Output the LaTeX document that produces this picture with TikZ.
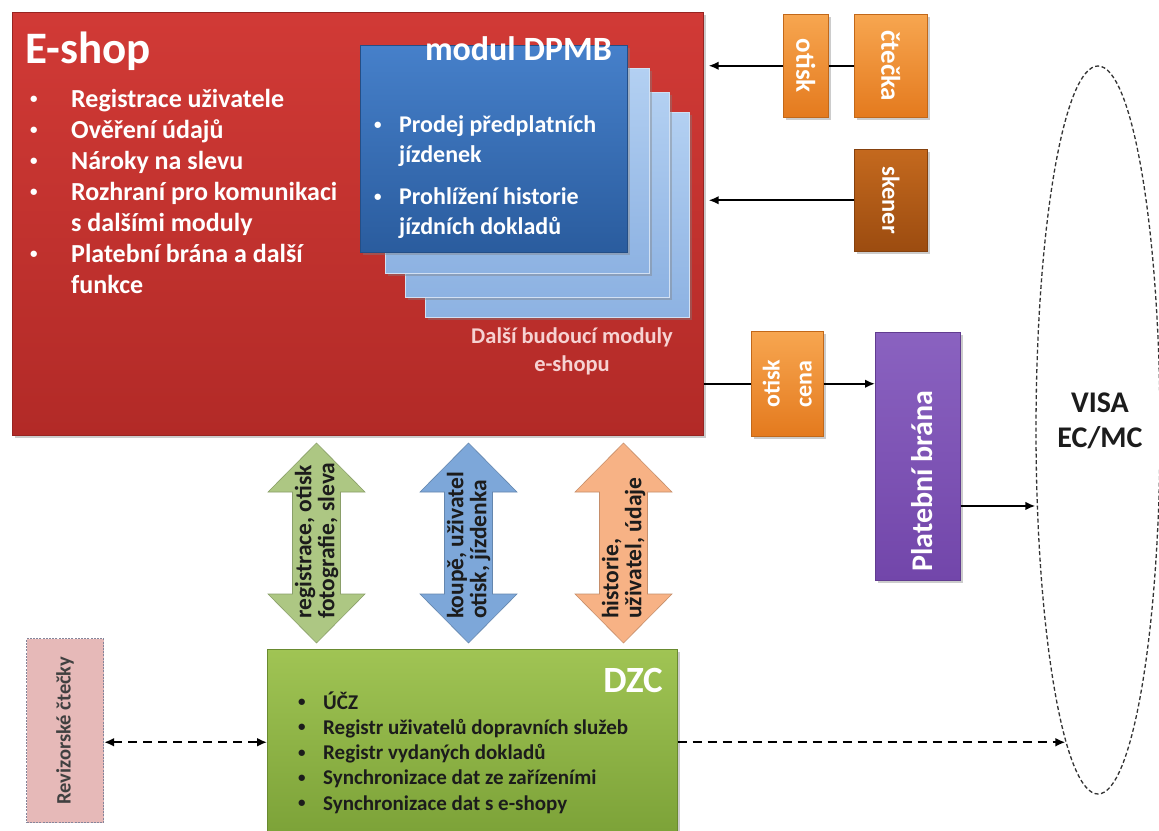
\documentclass[tikz,border=0pt]{standalone}
\usepackage{fontspec}
\setmainfont{Carlito}
\usetikzlibrary{shadows,shapes.geometric,arrows.meta,calc}
\definecolor{redT}{HTML}{D13A36}
\definecolor{redB}{HTML}{B22A27}
\definecolor{bluT}{HTML}{4680CA}
\definecolor{bluB}{HTML}{2A5C9E}
\definecolor{lbT}{HTML}{B3D0F2}
\definecolor{lbB}{HTML}{8DB2E2}
\definecolor{orT}{HTML}{F7A650}
\definecolor{orB}{HTML}{E47A1E}
\definecolor{skT}{HTML}{C4691E}
\definecolor{skB}{HTML}{9C4C10}
\definecolor{puT}{HTML}{8A62C0}
\definecolor{puB}{HTML}{7246AA}
\definecolor{grT}{HTML}{A0C454}
\definecolor{grB}{HTML}{7CA238}
\definecolor{agreen}{HTML}{ADC783}
\definecolor{ablue}{HTML}{7DA7D9}
\definecolor{aorange}{HTML}{F7B285}
\definecolor{revfill}{HTML}{E6B9B8}
\definecolor{revline}{HTML}{85859A}
\definecolor{pinktext}{HTML}{F6D2D2}
\definecolor{darktext}{HTML}{1C1C1C}
\newcommand{\smbul}{\raisebox{0.12em}{\fontsize{15}{15}\selectfont\textbullet}}
\tikzset{
  box/.style={rectangle, inner sep=0pt, anchor=north west},
  shad/.style={drop shadow={shadow xshift=2.5pt, shadow yshift=-2.5pt, opacity=0.4}},
  eshopbox/.style={box, shad, top color=redT, bottom color=redB, draw=redB!85!black, line width=0.6pt},
  modfront/.style={box, shad, top color=bluT, bottom color=bluB, draw=bluB!85!black, line width=0.6pt},
  modback/.style={box, shad, top color=lbT, bottom color=lbB, draw=white!60!lbB, line width=1pt},
  orbox/.style={box, shad, top color=orT, bottom color=orB, draw=orB!85!black, line width=0.5pt},
  skbox/.style={box, shad, top color=skT, bottom color=skB, draw=skB!85!black, line width=0.5pt},
  pubox/.style={box, shad, top color=puT, bottom color=puB, draw=puB!85!black, line width=0.5pt},
  dzcbox/.style={box, shad, top color=grT, bottom color=grB, draw=grB!85!black, line width=0.5pt},
  revbox/.style={box, fill=revfill, draw=revline, dash pattern=on 2pt off 1.2pt, line width=1.2pt},
  wtext/.style={text=white, inner sep=0pt},
  btext/.style={text=darktext, inner sep=0pt},
  arr/.style={draw=black, line width=1.8pt, -{Latex[length=10pt,width=8.5pt]}},
  plain/.style={draw=black, line width=1.8pt},
  darr/.style={draw=black, line width=2pt, dash pattern=on 9pt off 6pt, {Latex[length=10pt,width=9pt]}-{Latex[length=10pt,width=9pt]}},
  dsarr/.style={draw=black, line width=2pt, dash pattern=on 9pt off 6pt, -{Latex[length=10pt,width=9pt]}},
}
\newcommand{\dblarr}[3]{%
  \fill[#2, draw=#2!80!black, line width=0.6pt]
    (#1,443) -- ++(48.5,49) -- ++(-24.5,0) -- ++(0,102) -- ++(24.5,0)
    -- (#1,643) -- ++(-48.5,-49) -- ++(24.5,0) -- ++(0,-102) -- ++(-24.5,0) -- cycle;
}
\begin{document}
\begin{tikzpicture}[x=1pt,y=-1pt]
\useasboundingbox (0,0) rectangle (1159,830);
\fill[white] (0,0) rectangle (1159,830);

% E-shop
\node[eshopbox, minimum width=691pt, minimum height=423pt] (eshop) at (12,12) {};
\node[wtext, anchor=base west, font=\fontsize{45}{52}\selectfont\bfseries] (eshoptitle) at (25,63) {E-shop};
\node[wtext, anchor=base west, font=\fontsize{26}{31}\selectfont\bfseries] (eshoplist) at (30,107)
 {\begin{tabular}[t]{@{}p{41pt}@{}l@{}}
  \smbul & Registrace uživatele\\
  \smbul & Ověření údajů\\
  \smbul & Nároky na slevu\\
  \smbul & Rozhraní pro komunikaci\\
         & s dalšími moduly\\
  \smbul & Platební brána a další\\
         & funkce
 \end{tabular}};

% module stack
\node[modback, minimum width=264pt, minimum height=205pt] (mod4) at (425,112) {};
\node[modback, minimum width=264pt, minimum height=205pt] (mod3) at (405,92) {};
\node[modback, minimum width=264pt, minimum height=205pt] (mod2) at (385,68) {};
\node[modfront, minimum width=267pt, minimum height=207pt] (mod1) at (360,45) {};
\node[wtext, anchor=base east, font=\fontsize{34}{40}\selectfont\bfseries] (modtitle) at (612,60) {modul DPMB};
\node[wtext, anchor=base west, font=\fontsize{24}{30}\selectfont\bfseries] (modlist) at (374,132)
 {\begin{tabular}[t]{@{}p{25pt}@{}l@{}}
  \smbul & Prodej předplatních\\
         & jízdenek\\[12pt]
  \smbul & Prohlížení historie\\
         & jízdních dokladů
 \end{tabular}};
\node[anchor=base, inner sep=0pt, text=pinktext, font=\fontsize{22.5}{28}\selectfont\bfseries] (dalsi) at (572,343)
 {\begin{tabular}[t]{@{}c@{}}Další budoucí moduly\\e-shopu\end{tabular}};

% top right boxes
\node[orbox, minimum width=45pt, minimum height=103pt] (otisk1) at (783,14) {};
\node[wtext, rotate=-90, font=\fontsize{27}{30}\selectfont\bfseries] (otisk1t) at (otisk1.center) {otisk};
\node[orbox, minimum width=73pt, minimum height=103pt] (ctecka) at (854,14) {};
\node[wtext, rotate=-90, font=\fontsize{27}{30}\selectfont\bfseries] (cteckat) at (ctecka.center) {čtečka};
\node[skbox, minimum width=73pt, minimum height=102pt] (skener) at (854,149) {};
\node[wtext, rotate=-90, font=\fontsize{24.5}{28}\selectfont\bfseries] (skenert) at (skener.center) {skener};

\draw[plain] (ctecka.west) -- (otisk1.east);
\draw[arr, shorten >=5pt] (otisk1.west) -- (otisk1.west -| eshop.east);
\draw[arr, shorten >=5pt] (skener.west) -- (skener.west -| eshop.east);

% otisk cena + payment gateway
\node[orbox, minimum width=72pt, minimum height=105pt] (otiskcena) at (751,331) {};
\node[wtext, rotate=90, align=center, font=\fontsize{24}{32}\selectfont\bfseries] (otiskcenat) at (otiskcena.center) {otisk\\cena};
\node[pubox, minimum width=85pt, minimum height=248pt] (pb) at (875,332) {};
\node[wtext, rotate=90, font=\fontsize{30}{34}\selectfont\bfseries] (pbt) at (922,481) {Platební brána};

\draw[plain] (otiskcena.west -| eshop.east) -- (otiskcena.west);
\draw[arr] (otiskcena.east) -- (otiskcena.east -| pb.west);

% VISA ellipse
\node[ellipse, draw=black!80, line width=1.3pt, dash pattern=on 4pt off 2.5pt, minimum width=124pt, minimum height=728pt, inner sep=0pt] (visa) at (1098,430) {};
\node[anchor=base, inner sep=0pt, text=darktext, font=\fontsize{30}{35}\selectfont\bfseries] (visat) at (1100,412)
 {\begin{tabular}[t]{@{}c@{}}VISA\\EC/MC\end{tabular}};

\coordinate (pbout) at ($(pb.south east)!0.3!(pb.north east)$);
\draw[arr] (pbout) -- (pbout -| visa.west);

% double arrows
\dblarr{316.5}{agreen}{g}
\dblarr{468.5}{ablue}{b}
\dblarr{623.5}{aorange}{o}
\node[btext, rotate=90, anchor=west, align=left, font=\fontsize{23.5}{23}\selectfont\bfseries] (a1) at (316.5,619) {registrace, otisk\\fotografie, sleva};
\node[btext, rotate=90, anchor=west, align=left, font=\fontsize{23.5}{23}\selectfont\bfseries] (a2) at (468.5,619) {koupě, uživatel\\otisk, jízdenka};
\node[btext, rotate=90, anchor=west, align=left, font=\fontsize{23.5}{23}\selectfont\bfseries] (a3) at (623.5,619) {historie,\\uživatel, údaje};

% DZC
\node[dzcbox, minimum width=410pt, minimum height=186pt] (dzc) at (267,649) {};
\node[wtext, anchor=base east, font=\fontsize{37}{42}\selectfont\bfseries] (dzct) at (663,692) {DZC};
\node[btext, anchor=base west, font=\fontsize{21}{25.3}\selectfont\bfseries] (dzclist) at (298,709)
 {\begin{tabular}[t]{@{}p{25pt}@{}l@{}}
  \smbul & ÚČZ\\
  \smbul & Registr uživatelů dopravních služeb\\
  \smbul & Registr vydaných dokladů\\
  \smbul & Synchronizace dat ze zařízeními\\
  \smbul & Synchronizace dat s e-shopy
 \end{tabular}};

% Revizorske ctecky
\node[revbox, minimum width=77pt, minimum height=184pt] (rev) at (26,638) {};
\node[inner sep=0pt, rotate=90, text=black!75, font=\fontsize{20.5}{24}\selectfont\bfseries] (revt) at (rev.center) {Revizorské čtečky};

\draw[darr] (rev.east |- dzc.west) -- (dzc.west);
\draw[dsarr] (dzc.east) -- (dzc.east -| visa.264);
\end{tikzpicture}
\end{document}
